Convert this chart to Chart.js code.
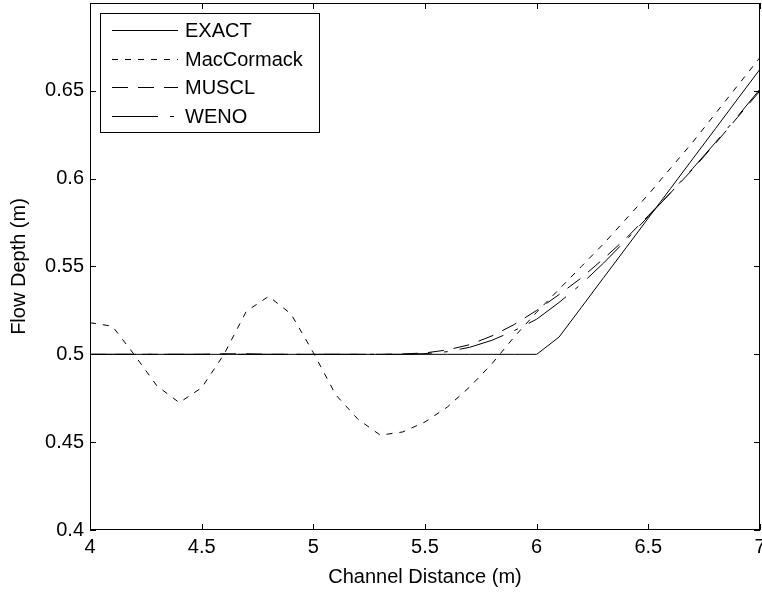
<!DOCTYPE html>
<html lang="en">
<head>
  <meta charset="UTF-8">
  <title>Flow Depth vs Channel Distance</title>
  <script src="https://cdn.jsdelivr.net/npm/chart.js"></script>
  <style>
    body { margin: 0; background: #fff; }
    #wrap { width: 762px; height: 592px; }
  </style>
</head>
<body>
  <div id="wrap"><canvas id="depthChart" width="762" height="592"></canvas></div>

  <script>
    // channel distance (m), one point every 0.1 m
    const xValues = [4.0, 4.1, 4.2, 4.3, 4.4, 4.5, 4.6, 4.7, 4.8, 4.9,
                     5.0, 5.1, 5.2, 5.3, 5.4, 5.5, 5.6, 5.7, 5.8, 5.9,
                     6.0, 6.1, 6.2, 6.3, 6.4, 6.5, 6.6, 6.7, 6.8, 6.9, 7.0];

    // flow depth (m) for each scheme
    const exact = [0.5, 0.5, 0.5, 0.5, 0.5, 0.5, 0.5, 0.5, 0.5, 0.5,
                   0.5, 0.5, 0.5, 0.5, 0.5, 0.5, 0.5, 0.5, 0.5, 0.5,
                   0.5, 0.5098, 0.5267, 0.5437, 0.5606, 0.5776, 0.5945, 0.6115, 0.6284, 0.6454, 0.6623];
    const macCormack = [0.518, 0.516, 0.4995, 0.482, 0.4725, 0.481, 0.500, 0.5245, 0.533, 0.523,
                        0.501, 0.477, 0.463, 0.454, 0.4558, 0.4615, 0.470, 0.4814, 0.4947, 0.510,
                        0.524, 0.537, 0.550, 0.563, 0.577, 0.591, 0.606, 0.621, 0.637, 0.653, 0.669];
    const muscl = [0.5, 0.5, 0.5, 0.5, 0.5, 0.5, 0.5003, 0.5003, 0.5, 0.5,
                   0.5, 0.5, 0.5, 0.5, 0.5002, 0.5008, 0.5025, 0.5055, 0.5105, 0.517,
                   0.525, 0.534, 0.5435, 0.5545, 0.566, 0.579, 0.592, 0.6055, 0.620, 0.635, 0.650];
    const weno = [0.5, 0.5, 0.5, 0.5, 0.5, 0.5, 0.5, 0.5, 0.5, 0.5,
                  0.5, 0.5, 0.5, 0.5, 0.5, 0.5004, 0.5015, 0.504, 0.508, 0.5135,
                  0.520, 0.5295, 0.540, 0.552, 0.565, 0.5785, 0.592, 0.606, 0.6205, 0.6355, 0.651];

    const seriesNames = ['EXACT', 'MacCormack', 'MUSCL', 'WENO'];
    const xTicks = [4, 4.5, 5, 5.5, 6, 6.5, 7];
    const yTicks = [0.4, 0.45, 0.5, 0.55, 0.6, 0.65];

    const FONT = "'Liberation Sans', Arial, sans-serif";
    const INK = '#000';

    function toPoints(ys) {
      return xValues.map((x, i) => ({ x: x, y: ys[i] }));
    }

    function makeSet(label, ys, dash) {
      return {
        label: label,
        data: toPoints(ys),
        borderColor: INK,
        borderWidth: 1,
        borderDash: dash,
        pointRadius: 0,
        fill: false,
        tension: 0
      };
    }

    // frame, inward ticks and the legend box, MATLAB style
    const matlabFrame = {
      id: 'matlabFrame',
      afterDatasetsDraw(chart) {
        const { ctx, chartArea: a, scales: { x, y } } = chart;
        ctx.save();
        ctx.strokeStyle = INK;
        ctx.lineWidth = 1;
        ctx.setLineDash([]);
        ctx.strokeRect(a.left + 0.5, a.top + 0.5, a.right - a.left - 1, a.bottom - a.top - 1);

        const len = 6;
        ctx.beginPath();
        xTicks.forEach(v => {
          const px = Math.round(x.getPixelForValue(v)) + 0.5;
          ctx.moveTo(px, a.bottom); ctx.lineTo(px, a.bottom - len);
          ctx.moveTo(px, a.top); ctx.lineTo(px, a.top + len);
        });
        yTicks.forEach(v => {
          const py = Math.round(y.getPixelForValue(v)) + 0.5;
          ctx.moveTo(a.left, py); ctx.lineTo(a.left + len, py);
          ctx.moveTo(a.right, py); ctx.lineTo(a.right - len, py);
        });
        ctx.stroke();

        // legend
        const box = { left: 100, top: 13, width: 219, height: 119 };
        ctx.fillStyle = '#fff';
        ctx.fillRect(box.left, box.top, box.width, box.height);
        ctx.strokeRect(box.left + 0.5, box.top + 0.5, box.width, box.height);
        ctx.font = '20px ' + FONT;
        ctx.textBaseline = 'middle';
        ctx.textAlign = 'left';
        chart.data.datasets.forEach((ds, i) => {
          const rowY = Math.round(box.top + 17 + i * 28.5) + 0.5;
          ctx.setLineDash(ds.borderDash || []);
          ctx.beginPath();
          ctx.moveTo(112, rowY);
          ctx.lineTo(178, rowY);
          ctx.stroke();
          ctx.setLineDash([]);
          ctx.fillStyle = INK;
          ctx.fillText(ds.label, 185, rowY + 1);
        });
        ctx.restore();
      }
    };

    const ctx = document.getElementById('depthChart').getContext('2d');
    const depthChart = new Chart(ctx, {
      type: 'line',
      data: {
        datasets: [
          makeSet(seriesNames[0], exact, []),
          makeSet(seriesNames[1], macCormack, [6, 7]),
          makeSet(seriesNames[2], muscl, [16, 10]),
          makeSet(seriesNames[3], weno, [46, 12, 4, 12])
        ]
      },
      options: {
        responsive: false,
        animation: false,
        layout: { padding: { left: 0, top: 3, right: 2, bottom: 0 } },
        plugins: {
          legend: { display: false },
          tooltip: { enabled: false }
        },
        scales: {
          x: {
            type: 'linear',
            min: 4,
            max: 7,
            afterBuildTicks: s => { s.ticks = xTicks.map(v => ({ value: v })); },
            afterFit: s => { s.height = 62; s.paddingLeft = 0; s.paddingRight = 0; },
            grid: { display: false, drawTicks: false },
            border: { display: false },
            ticks: {
              color: INK,
              padding: 5,
              maxRotation: 0,
              autoSkip: false,
              font: { family: FONT, size: 20 },
              callback: v => String(v)
            },
            title: {
              display: true,
              text: 'Channel Distance (m)',
              color: INK,
              font: { family: FONT, size: 20 },
              padding: { top: 0, bottom: 3 }
            }
          },
          y: {
            type: 'linear',
            min: 0.4,
            max: 0.7,
            afterBuildTicks: s => { s.ticks = yTicks.map(v => ({ value: v })); },
            afterFit: s => { s.width = 90; s.paddingTop = 0; s.paddingBottom = 0; },
            grid: { display: false, drawTicks: false },
            border: { display: false },
            ticks: {
              color: INK,
              padding: 6,
              autoSkip: false,
              font: { family: FONT, size: 20 },
              callback: v => String(Math.round(v * 100) / 100)
            },
            title: {
              display: true,
              text: 'Flow Depth (m)',
              color: INK,
              font: { family: FONT, size: 20 },
              padding: { top: 7, bottom: 0 }
            }
          }
        }
      },
      plugins: [matlabFrame]
    });
  </script>
</body>
</html>
